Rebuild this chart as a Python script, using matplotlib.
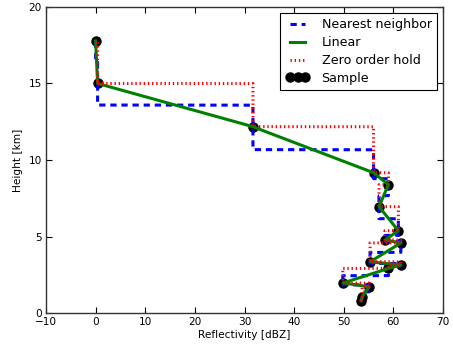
import numpy as np
import matplotlib
matplotlib.use("Agg")
import matplotlib.pyplot as plt

# Sample data (height in km, reflectivity in dBZ), ascending height
heights = [0.80, 1.05, 1.72, 1.96, 2.92, 3.14, 3.35, 4.58, 4.77, 5.38, 6.95, 8.39, 9.17, 12.18, 15.0, 17.78]
refl = [53.5, 53.7, 55.1, 49.8, 59.0, 61.5, 55.3, 61.5, 58.3, 61.0, 57.1, 59.0, 56.0, 31.7, 0.4, 0.0]

x_ticks = [-10, 0, 10, 20, 30, 40, 50, 60, 70]
y_ticks = [0, 5, 10, 15, 20]

plt.rcParams['lines.scale_dashes'] = False
plt.rcParams['font.family'] = ['DejaVu Sans']

h = np.array(heights)
r = np.array(refl)
grid = np.linspace(h.min(), h.max(), 2000)

# nearest neighbour
idx_near = np.abs(grid[:, None] - h[None, :]).argmin(axis=1)
near = r[idx_near]
# zero-order hold
idx_zero = np.clip(np.searchsorted(h, grid, side='right') - 1, 0, len(h) - 1)
zero = r[idx_zero]
# linear
lin = np.interp(grid, h, r)

fig = plt.figure(figsize=(4.53, 3.49), dpi=100)
ax = fig.add_axes([0.1015, 0.103, 0.8765, 0.877])

samp, = ax.plot(r, h, 'o', color='k', markersize=6.5, label='Sample', zorder=2)
ln_near, = ax.plot(near, grid, color='b', lw=2.2, linestyle=(0, (4.5, 3.5)), label='Nearest neighbor', zorder=3)
ln_lin, = ax.plot(lin, grid, color='g', lw=2.2, label='Linear', zorder=4)
ln_zero, = ax.plot(zero, grid, color='r', lw=2.2, linestyle=(0, (1.0, 2.0)), label='Zero order hold', zorder=5)

ax.set_xlim(-10, 70)
ax.set_ylim(0, 20)
ax.set_xticks(x_ticks)
ax.set_yticks(y_ticks)
ax.tick_params(direction='in', top=True, right=True, length=4, width=0.8, labelsize=7.6, pad=3, colors='k')
for s in ax.spines.values():
    s.set_linewidth(1.0)
    s.set_color('#333333')
ax.set_xlabel('Reflectivity [dBZ]', fontsize=7.6, labelpad=2)
ax.set_ylabel('Height [km]', fontsize=7.6, labelpad=4)

leg = ax.legend(handles=[ln_near, ln_lin, ln_zero, samp], loc='upper right', fontsize=9.1,
                numpoints=3, fancybox=False, framealpha=1, edgecolor='k', borderaxespad=0.45,
                handlelength=1.8, handletextpad=1.0, borderpad=0.45, labelspacing=0.38)
leg.get_frame().set_linewidth(0.8)

fig.savefig('out.png', dpi=100)
